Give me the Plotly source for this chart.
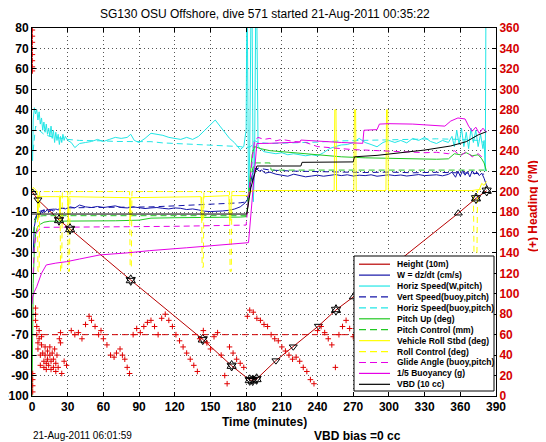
import numpy as np
import plotly.graph_objects as go

# ---------------- data ----------------
# Height (10 m)
ht_t = [0, 5, 22.7, 32, 83, 143.5, 167.8, 183, 185.5, 188.8, 205, 219.6, 240.7, 255.5, 270, 358.3, 373.2, 382.2]
ht_y = [0, -4, -13.9, -18.3, -43.3, -72.3, -85.2, -92.2, -92.3, -91.7, -82.7, -75.9, -65.8, -57.9, -51.6, -10.6, -3.3, 0.4]
mk_down_t = [5, 22.7, 32, 83, 143.5, 167.8, 183, 185.5, 188.8, 205, 219.6, 240.7]
mk_up_t = [0.6, 255.5, 270, 358.3, 373.2, 382.2]
mk_star_t = [22.7, 32, 83, 143.5, 167.8, 183, 185.5, 188.8, 255.5, 373.2, 382.2]

# W = dz/dt (cm/s)
w_t = [1, 2, 3, 4, 5, 6, 7, 8, 9, 10,
       11, 12, 13, 14, 16, 18, 20, 22, 25, 28,
       32, 36, 40, 45, 50, 55, 60, 65, 70, 75,
       80, 85, 90, 95, 100, 105, 110, 115, 120, 125,
       130, 135, 140, 145, 150, 155, 160, 165, 170, 175,
       179, 181, 183, 185, 187, 189, 191, 193, 196, 200,
       205, 210, 215, 220, 225, 230, 235, 240, 245, 250,
       255, 260, 265, 270, 275, 280, 285, 290, 295, 300,
       305, 310, 315, 320, 325, 330, 335, 340, 345, 350,
       353, 356, 358, 360, 362, 364, 366, 368, 370, 372,
       374, 376, 378, 380, 382]
w_y = [-30, -17, -14, -12, -13, -10.5, -11, -9.5, -10.5, -9,
       -10, -9.5, -8.5, -10, -9, -9.5, -8.5, -9, -8, -8.5,
       -7.5, -8, -6.6, -7.5, -7.8, -7.3, -7.8, -7.5, -7, -7.8,
       -8, -7.5, -7.8, -8.3, -8, -7.8, -8.2, -8.5, -8, -8.2,
       -8.8, -8.5, -9, -9.6, -9.8, -9.8, -9.5, -9.2, -8.6, -7.5,
       -5.6, -4, 2, 8, 11.5, 11, 10, 10.5, 9, 9.5,
       8.5, 8, 7.5, 8.5, 7.8, 7.2, 7.6, 8.0, 7.5, 8,
       8.3, 7.8, 8.2, 7.6, 8.0, 7.8, 8.2, 7.5, 8, 8.2,
       7.8, 8.1, 7.6, 8, 8.3, 7.8, 8, 8.2, 7.7, 8.4,
       9.5, 7, 10, 7.5, 10.5, 8, 9.8, 7.2, 10.2, 8.5,
       9.5, 7.8, 9, 6.5, 3]

# Horiz Speed (W,pitch)
hs_t = [0.5, 1, 2, 3, 4, 5, 6, 7, 8, 9,
        10, 11, 12, 13, 14, 15, 16, 17, 18, 19,
        20, 21, 22, 23, 24, 25, 26, 27, 28, 30,
        33, 36, 38, 40, 45, 50, 55, 60, 65, 70,
        75, 80, 83, 86, 90, 95, 100, 105, 110, 115,
        120, 125, 130, 135, 140, 145, 150, 154, 158, 162,
        166, 170, 175, 178, 180, 180.5, 181, 182, 183, 184,
        185, 186, 187, 188, 189, 190, 192, 195, 200, 205,
        210, 215, 220, 225, 230, 235, 240, 245, 250, 255,
        260, 265, 270, 275, 280, 285, 290, 295, 300, 305,
        310, 315, 320, 325, 330, 335, 340, 345, 350, 353,
        355, 357, 359, 361, 363, 365, 367, 369, 371, 373,
        375, 377, 379, 380, 381, 381.5, 382]
hs_y = [15, 35, 41, 38, 40, 35, 39, 33, 36, 30,
        34, 29, 33, 28, 31, 27, 32, 26, 30, 24,
        29, 25, 28, 23, 27, 24, 28, 25, 27, 25,
        24, 21.5, 22.5, 23.5, 24, 24.5, 25.5, 24.5, 25.5, 26.5,
        26, 26.5, 28, 25, 24, 26, 28.5, 28, 27.5, 26.5,
        26, 25.5, 26.5, 25.5, 27, 30, 33, 35, 32, 29,
        26, 24, 20.5, 22, 30, 85, 85, -3, 20, 85,
        85, -5, 10, 85, 85, 22, 21, 19.5, 19, 18.5,
        19, 18, 18.5, 18, 17.5, 18, 17.5, 19, 21, 22,
        22.8, 23, 24, 26, 24, 23, 21.9, 24, 25, 24,
        25, 23.8, 26, 25, 26.5, 24.5, 23.5, 25, 24, 27,
        22, 30, 23, 31, 22, 29, 21, 31, 24, 30,
        22, 28, 21, 25, 10, 85, 85]

# Vert Speed (buoy,pitch)
vs_t = [2, 5, 10, 20, 30, 50, 80, 100, 120, 140, 160, 175, 181, 184, 187, 190, 200, 220, 240, 260, 280, 300, 320, 340, 360, 370, 380]
vs_y = [-14, -10, -9, -8.5, -8, -7.8, -7.8, -7.5, -7, -6.5, -6, -5.5, -5, 3, 10, 11.5, 10.5, 10, 9.8, 9.5, 9.3, 9.5, 9.2, 9.4, 9.2, 9, 8.5]

# Horiz Speed (buoy,pitch)
hb_t = [1, 3, 6, 10, 15, 20, 25, 30, 40, 50, 60, 70, 80, 90, 100, 110, 120, 140, 160, 175, 180, 184, 187, 190, 200, 220, 240, 260, 280, 300, 320, 340, 360, 375, 380]
hb_y = [20, 32, 30, 28, 27, 26.5, 26, 25.5, 25, 25, 24.8, 24.5, 24.5, 24.2, 24.4, 23.8, 23.5, 23, 22.5, 22, 21.5, 22, 25, 24, 23.5, 23.8, 24.2, 24.8, 25, 25.2, 25.5, 25.8, 25.5, 25, 24]

# Pitch Up (deg)
pu_t = [0, 1, 2, 3, 4, 5, 7, 10, 15, 20, 30, 50, 70, 90, 100, 120, 140, 160, 175, 180, 181, 183, 185, 187, 189, 192, 200, 210, 220, 230, 240, 250, 260, 280, 300, 320, 340, 350, 355, 360, 365, 370, 375, 378, 380, 382]
pu_y = [-100, -45, -28, -21, -18.5, -17, -16, -15, -14.5, -14.5, -14.5, -14.5, -14.3, -14, -13, -12.8, -12.8, -12.6, -12.5, -12.3, -10, 5, 18, 22, 21.5, 21, 20, 19.5, 19, 18.5, 18, 17.5, 17, 16.5, 16.2, 16, 15.8, 16, 18.5, 18, 19, 17.5, 18, 16, 14, 10]

# Pitch Control (mm)
pc_t = [1, 3, 6, 10, 60, 120, 180.5, 181.5, 184, 187, 200, 201, 260, 320, 380]
pc_y = [-20, -13, -12, -11.8, -11.8, -11.8, -11.8, -5, 8, 14, 14, 10.5, 10.5, 10.5, 10.5]

# Vehicle Roll Stbd (deg)
vr_t = [0, 1, 2, 3, 4, 4.5, 5, 5.5, 6, 20,
        23, 23.5, 24, 30, 30.5, 31, 82, 82.5, 83, 142,
        142.5, 143.5, 144, 165.5, 166, 167, 167.5, 181, 184, 188,
        254, 254.5, 255.5, 256, 270.5, 271, 272, 272.5, 297.5, 298,
        299, 299.5, 370, 376, 378, 380, 382]
vr_y = [0, 2, 1.5, 1, 0, -2, -14, -2, -2.5, -2.5,
        -2.5, -14, -2.5, -2.5, -14, -2.5, -3, -14, -3, -2.5,
        -14, -14, -2.5, -2, -14, -14, -2, -2, 0, 0.5,
        0.5, 40, 40, 0.5, 0.5, 40, 40, 0.5, 0.5, 40,
        40, 0.5, 0.5, 1, 4, 3, 5]

# Roll Control (deg)
rc_t = [0, 4.5, 5, 6, 6.5, 23.5, 24, 25, 25.5, 30,
        30.5, 31.5, 32, 82, 82.5, 83.5, 84, 142.5, 143, 144,
        144.5, 166, 166.5, 167.5, 168, 182, 186, 371, 371.5, 374,
        374.5, 382]
rc_y = [0, 0, -39, -39, 0, 0, -39, -39, 0, 0,
        -39, -39, 0, 0, -37, -37, 0, 0, -37, -37,
        0, 0, -39, -39, 0, 0, 0.5, 0.5, -30, -30,
        0.5, 2]

# Glide Angle (buoy,pitch)
ga_t = [1, 2, 4, 6, 10, 20, 40, 80, 120, 160, 180, 181, 184, 187, 190, 195, 200, 205, 210, 220, 230, 240, 250, 260, 270, 280, 290, 300, 310, 320, 330, 340, 350, 355, 360, 365, 370, 375, 380]
ga_y = [-40, -26, -20, -18.5, -17.5, -17.5, -17.2, -17.2, -17, -16.5, -16.4, -10, 10, 25, 26.5, 25.5, 26, 24.8, 25.5, 24.5, 24, 22, 21.5, 20.8, 20.5, 20.3, 20, 19.5, 19.5, 19.3, 19, 19.2, 18.5, 20, 17.5, 19.5, 17, 18.5, 16]

# 1/5 Buoyancy (g)
bu_t = [0, 0.5, 2, 4, 8, 12, 20, 29, 40, 57, 80, 99, 130, 160, 182, 189, 200, 225, 226, 260, 278, 279, 290, 292, 300, 320, 340, 347, 352, 358, 364, 367, 370, 373, 376, 379, 382]
bu_y = [-55, -51.6, -49, -46.5, -40, -35.9, -35, -34.3, -33, -31, -30, -28.9, -27.5, -26, -25, 23.5, 23.6, 24.2, 25.2, 24, 23.6, 30, 30.3, 33, 33.2, 33, 32.3, 32, 34.5, 36, 35.5, 32, 29.5, 31.5, 28.5, 31, 29]

# VBD (10 cc)
vb_t = [0, 180.5, 184, 189, 226, 227, 270, 271, 290, 310, 330, 352, 365, 375, 382]
vb_y = [-11, -11, 2, 12.5, 12.5, 14.3, 14.5, 17, 17.7, 18.9, 20.3, 22.3, 24.4, 27.7, 29.3]

# Heading (deg M), right axis
hdg_t = [0.3, 0.3, 0.3, 0.3, 0.3, 0.3, 0.3, 0.3, 0.6, 0.6, 0.6, 0.6,
         3, 3, 3, 4, 4, 5, 5, 6, 6, 7, 7, 8, 8, 9, 10, 10, 11, 11, 12, 12, 13, 13, 14, 15, 15, 16, 16, 17,
         18, 18, 19, 20, 20, 21, 22, 23, 24, 24, 25, 27, 29,
         33, 36, 39, 42, 45, 48, 50, 53, 56, 58, 60, 63, 66, 69, 71, 74, 76, 78, 80, 82,
         85, 88, 91, 94, 97, 100, 103, 106, 109, 112, 115, 118, 121, 124, 127, 130, 133, 136, 139, 141,
         144, 147, 150, 153, 156, 159, 162, 164, 166, 169, 172, 175, 178, 181, 183, 186, 189, 192, 195, 198,
         201, 204, 207, 210, 213, 216, 219, 222, 225, 228, 231, 234, 237, 240, 243, 246, 249, 252, 255, 258,
         261, 264, 267, 270, 273, 276, 279, 282, 285, 288, 291, 294, 297, 300, 303, 306, 309, 312, 315, 318,
         321, 324, 327, 330, 333, 336, 339, 342, 345, 348, 351, 354, 357, 360, 363, 366, 369, 372, 375, 378, 381]
hdg_v = [358, 352, 346, 340, 334, 328, 322, 318, 22, 16, 10, 4,
         86, 80, 74, 68, 60, 52, 46, 64, 56, 40, 30, 58, 50, 42, 34, 28, 48, 40, 32, 26, 44, 36, 30, 40, 48, 34, 26, 42,
         36, 28, 46, 32, 24, 40, 28, 56, 62, 52, 22, 34, 30,
         64, 60, 62, 56, 70, 78, 74, 68, 60, 64, 56, 50, 40, 38, 42, 46, 40, 36, 28, 22,
         60, 66, 62, 68, 72, 74, 68, 60, 76, 80, 74, 68, 60, 54, 48, 42, 36, 30, 24, 56,
         64, 52, 46, 58, 62, 40, 20, 12, 48, 42, 36, 32, 28, 78, 84, 82, 76, 74, 70, 68,
         60, 56, 54, 48, 44, 40, 36, 38, 34, 28, 24, 16, 12, 64, 68, 62, 56, 50, 28, 60,
         68, 74, 66, 58, 48, 40, 32, 44, 52, 60, 68, 72, 64, 56, 50, 44, 36, 28, 40, 48,
         58, 66, 72, 62, 54, 44, 34, 24, 20, 52, 60, 68, 56, 46, 38, 30, 64, 70, 52, 42, 60]
hdg_des_t = [0, 383]
hdg_des_v = [60, 60]

for a, b in [(w_t, w_y), (hs_t, hs_y), (vs_t, vs_y), (hb_t, hb_y), (pu_t, pu_y), (pc_t, pc_y),
             (vr_t, vr_y), (rc_t, rc_y), (ga_t, ga_y), (bu_t, bu_y), (vb_t, vb_y), (hdg_t, hdg_v), (ht_t, ht_y)]:
    assert len(a) == len(b), (len(a), len(b))

x_ticks = list(range(0, 391, 30))
y_ticks = list(range(-100, 81, 10))
y_ticklabels = [str(v) for v in y_ticks]
legend_names = ["Height (10m)", "W = dz/dt (cm/s)", "Horiz Speed(W,pitch)", "Vert Speed(buoy,pitch)",
                "Horiz Speed(buoy,pitch)", "Pitch Up (deg)", "Pitch Control (mm)", "Vehicle Roll Stbd (deg)",
                "Roll Control (deg)", "Glide Angle (buoy,pitch)", "1/5 Buoyancy (g)", "VBD (10 cc)"]

# ---------------- styles ----------------
RED = "#d40000"
DRED = "#b80000"
BLUE = "#1414a8"
CYAN = "#22e6e6"
GREEN = "#22c822"
YELLOW = "#ffff00"
MAG = "#e600e6"
BLACK = "#000000"
DASH = "6px,4px"
FONT = "Liberation Sans, Arial, Helvetica, sans-serif"

OFF = 8                       # page body margin of the html page
W, H = 546 - OFF, 442 - OFF   # figure size
# plot-area bounds in window pixels
L, R, T, B = 32, 496, 28, 396


def px(x):
    return (x - L) / (R - L)


def py(y):
    return (B - y) / (B - T)


fig = go.Figure()


def add_line(t, y, name, color, dash="solid", axis="y"):
    fig.add_trace(go.Scatter(x=t, y=y, mode="lines", name=name, yaxis=axis,
                             line=dict(color=color, width=1, dash=dash),
                             showlegend=False, hoverinfo="skip"))


add_line(ht_t, ht_y, legend_names[0], DRED)
add_line(w_t, w_y, legend_names[1], BLUE)
add_line(hs_t, hs_y, legend_names[2], CYAN)
add_line(vs_t, vs_y, legend_names[3], BLUE, DASH)
add_line(hb_t, hb_y, legend_names[4], CYAN, DASH)
add_line(pu_t, pu_y, legend_names[5], GREEN)
add_line(pc_t, pc_y, legend_names[6], GREEN, DASH)
add_line(vr_t, vr_y, legend_names[7], YELLOW)
add_line(rc_t, rc_y, legend_names[8], YELLOW, DASH)
add_line(ga_t, ga_y, legend_names[9], MAG, DASH)
add_line(bu_t, bu_y, legend_names[10], MAG)
add_line(vb_t, vb_y, legend_names[11], BLACK)

# Height markers
for tt, sym, size in [(mk_down_t, "triangle-down-open", 7), (mk_up_t, "triangle-up-open", 7),
                      (mk_star_t, "hexagram-open", 8)]:
    fig.add_trace(go.Scatter(x=tt, y=np.interp(tt, ht_t, ht_y), mode="markers",
                             marker=dict(symbol=sym, size=size, color=BLACK, line=dict(width=1, color=BLACK)),
                             showlegend=False, hoverinfo="skip"))

# Heading on right axis
fig.add_trace(go.Scatter(x=hdg_des_t, y=hdg_des_v, mode="lines", yaxis="y2",
                         line=dict(color=RED, width=1, dash=DASH), showlegend=False, hoverinfo="skip"))
fig.add_trace(go.Scatter(x=hdg_t, y=hdg_v, mode="markers", yaxis="y2", name="Heading",
                         marker=dict(symbol="cross-thin", size=4, color="#e00000",
                                     line=dict(width=1, color="#e00000")),
                         showlegend=False, hoverinfo="skip"))

tickfont = dict(family=FONT, size=12, color="black", weight="bold")
grid = dict(showgrid=True, gridcolor="#555555", griddash="1px,3px", gridwidth=1)

fig.update_layout(
    width=W, height=H,
    margin=dict(l=L - OFF, r=W - (R - OFF), t=T - OFF, b=H - (B - OFF), pad=0, autoexpand=False),
    paper_bgcolor="white", plot_bgcolor="white",
    showlegend=False,
    xaxis=dict(range=[0, 390], tickvals=x_ticks, ticks="inside", ticklen=4, tickcolor="black",
               showline=True, linecolor="black", linewidth=1, mirror="ticks", zeroline=False,
               automargin=False, tickfont=tickfont, **grid),
    yaxis=dict(range=[-100, 80], tickvals=y_ticks, ticktext=y_ticklabels, ticks="inside", ticklen=4,
               tickcolor="black", showline=True, linecolor="black", linewidth=1, mirror="ticks",
               zeroline=False, automargin=False, tickfont=tickfont, **grid),
    yaxis2=dict(range=[0, 360], dtick=20, overlaying="y", side="right", ticks="inside", ticklen=4,
                tickcolor="black", showline=True, linecolor="black", showgrid=False, zeroline=False,
                automargin=False, tickfont=dict(family=FONT, size=12, color=RED, weight="bold")),
)

ann = []
ann.append(dict(text="SG130 OSU Offshore, dive 571 started 21-Aug-2011 00:35:22", x=px(265), y=py(14),
                font=dict(family=FONT, size=12, color="black")))
ann.append(dict(text="Time (minutes)", x=px(264), y=py(421.5),
                font=dict(family=FONT, size=12, color="black", weight="bold")))
ann.append(dict(text="21-Aug-2011 06:01:59", x=px(31), y=py(435.5), xanchor="left",
                font=dict(family=FONT, size=10, color="black")))
ann.append(dict(text="VBD bias =0 cc", x=px(312), y=py(436), xanchor="left",
                font=dict(family=FONT, size=12, color="black", weight="bold")))
ann.append(dict(text="(+) Heading (°M)", x=px(533), y=py(206), textangle=-90,
                font=dict(family=FONT, size=12, color=RED, weight="bold")))

# Legend drawn manually (compact MATLAB-style)
leg_colors = [DRED, BLUE, CYAN, BLUE, CYAN, GREEN, GREEN, YELLOW, YELLOW, MAG, MAG, BLACK]
leg_dash = ["solid", "solid", "solid", "dash", "dash", "solid", "dash", "solid", "dash", "dash", "solid", "solid"]
shapes = [dict(type="rect", xref="paper", yref="paper", x0=px(354), x1=px(494), y0=py(391), y1=py(256),
               fillcolor="white", line=dict(color="black", width=1), layer="above")]
for i, (nm, c, d) in enumerate(zip(legend_names, leg_colors, leg_dash)):
    yy = 264.2 + i * 10.92
    shapes.append(dict(type="line", xref="paper", yref="paper", x0=px(359), x1=px(390), y0=py(yy), y1=py(yy),
                       line=dict(color=c, width=1.2, dash="7px,4px" if d == "dash" else "solid"), layer="above"))
    ann.append(dict(text=nm, x=px(395), y=py(yy), xanchor="left",
                    font=dict(family=FONT, size=8.5, color="black", weight="bold")))

for a in ann:
    a.setdefault("xanchor", "center")
    a.update(xref="paper", yref="paper", showarrow=False, yanchor="middle")
fig.update_layout(annotations=ann, shapes=shapes)

fig.write_html("out.html")
